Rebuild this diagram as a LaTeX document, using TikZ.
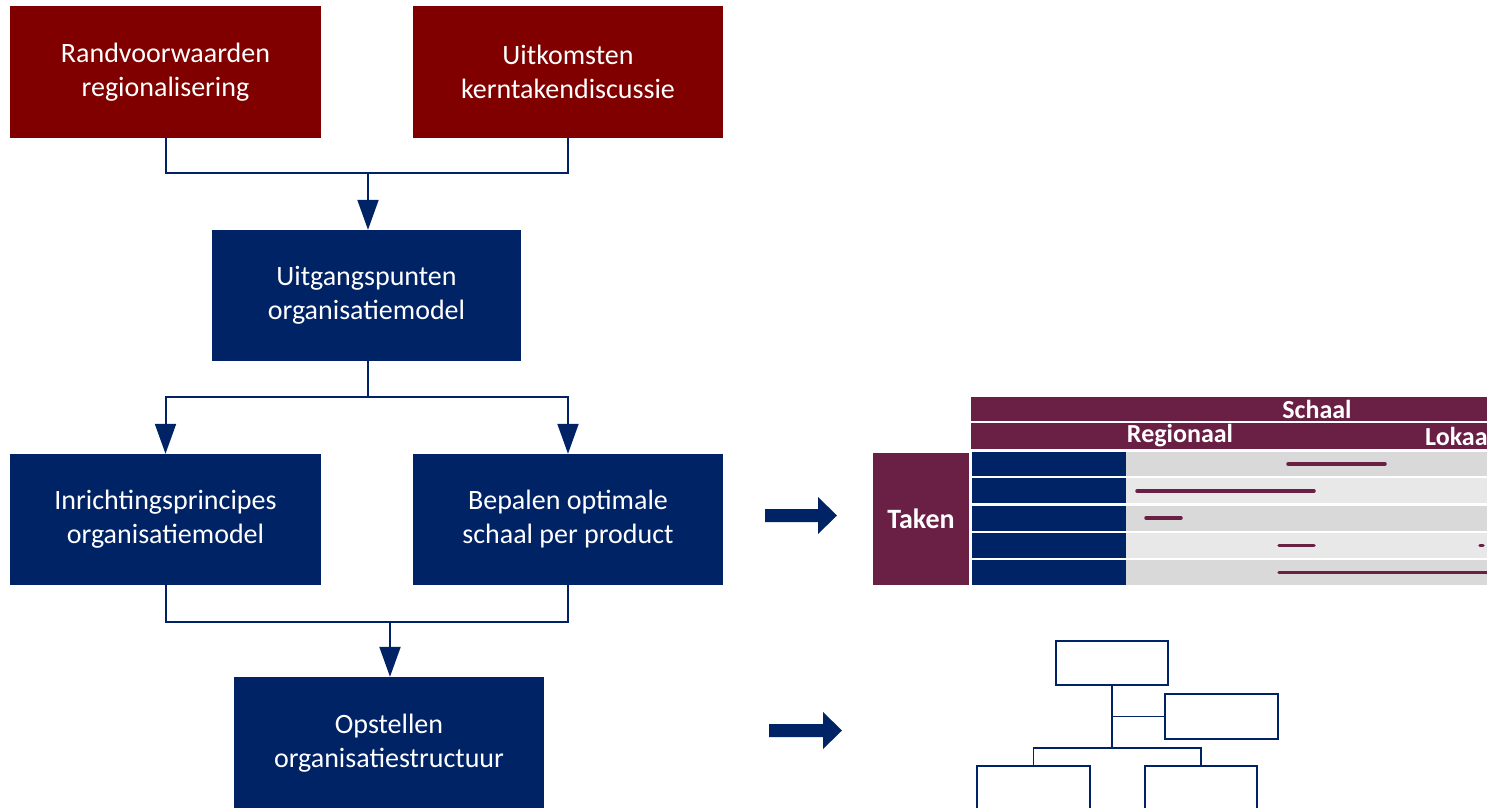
\documentclass[tikz,border=0pt]{standalone}
\usepackage{fontspec}
\setmainfont{Carlito}
\usetikzlibrary{arrows.meta}
\definecolor{darkred}{HTML}{800000}
\definecolor{navy}{HTML}{002366}
\definecolor{plum}{HTML}{6A1F45}
\definecolor{gA}{HTML}{D9D9D9}
\definecolor{gB}{HTML}{E8E8E8}
\begin{document}
\begin{tikzpicture}[x=1pt,y=-1pt,
  redbox/.style={fill=darkred, text=white, minimum width=311pt, minimum height=132pt, align=center, inner sep=0pt, font=\fontsize{28}{34}\selectfont},
  bluebox/.style={redbox, fill=navy},
  conn/.style={draw=navy, line width=2pt},
  arr/.style={conn, -{Triangle[length=30pt,width=21pt]}},
  blockarrow/.style={fill=navy},
  hdr/.style={text=white, font=\fontsize{26}{30}\selectfont\bfseries, inner sep=0pt},
  bar/.style={draw=plum, line width=3.5pt, line cap=round},
  orgbox/.style={draw=navy, line width=1.5pt, fill=white, minimum width=112pt, minimum height=44pt, inner sep=0pt},
  org/.style={draw=navy, line width=1.5pt}]
\useasboundingbox (0,0) rectangle (1487,807);
\clip (0,0) rectangle (1487,807);

% flowchart boxes
\node[redbox] (rv) at (165.5,72) {Randvoorwaarden\\regionalisering};
\node[redbox, minimum width=310pt] (uk) at (568,72) {Uitkomsten\\kerntakendiscussie};
\node[bluebox, minimum width=309pt, minimum height=131pt] (up) at (366.5,295.5) {Uitgangspunten\\organisatiemodel};
\node[bluebox, minimum height=131pt] (ip) at (165.5,519.5) {Inrichtingsprincipes\\organisatiemodel};
\node[bluebox, minimum width=310pt, minimum height=131pt] (bp) at (568,519.5) {Bepalen optimale\\schaal per product};
\node[bluebox, minimum width=310pt, minimum height=132pt] (os) at (389,743) {Opstellen\\organisatiestructuur};

% connectors
\coordinate (j1) at (368,173);
\draw[conn] (rv.south) |- (j1) -| (uk.south);
\draw[arr] (j1) -- (j1 |- up.north);
\coordinate (j2) at (368,397);
\draw[conn] (up.south -| j2) -- (j2);
\draw[arr] (j2) -| (ip.north);
\draw[arr] (j2) -| (bp.north);
\coordinate (j3) at (390,622);
\draw[conn] (ip.south) |- (j3) -| (bp.south);
\draw[arr] (j3) -- (j3 |- os.north);

% block arrows
\fill[blockarrow] (765,509) -- (818,509) -- (818,497) -- (837,515.5) -- (818,534) -- (818,522) -- (765,522) -- cycle;
\fill[blockarrow] (769,724) -- (823,724) -- (823,712) -- (842,730.5) -- (823,749) -- (823,737) -- (769,737) -- cycle;

% table
\fill[plum] (971,397) rectangle (1487,421);
\node[hdr] (schaal) at (1317,409) {Schaal};
\fill[plum] (971,423) rectangle (1487,449);
\node[hdr] (regio) at (1180,436) {Regionaal};
\node[hdr, anchor=west] (lokaal) at (1425,436) {Lokaal};
\fill[plum] (873,453) rectangle (969,585);
\node[hdr, font=\fontsize{28}{32}\selectfont\bfseries] (taken) at (921,519) {Taken};

\fill[navy] (972,452) rectangle (1126,476);
\fill[gA] (1126,452) rectangle (1487,476);
\fill[navy] (972,478) rectangle (1126,503);
\fill[gB] (1126,478) rectangle (1487,503);
\fill[navy] (972,506) rectangle (1126,531);
\fill[gA] (1126,506) rectangle (1487,531);
\fill[navy] (972,533) rectangle (1126,558);
\fill[gB] (1126,533) rectangle (1487,558);
\fill[navy] (972,560) rectangle (1126,585);
\fill[gA] (1126,560) rectangle (1487,585);

\draw[bar] (1288,464) -- (1385,464);
\draw[bar] (1137,491) -- (1314,491);
\draw[bar] (1146,518) -- (1181,518);
\draw[bar] (1279,545.5) -- (1314,545.5);
\draw[bar] (1480,545.5) -- (1483,545.5);
\draw[bar] (1279,572.5) -- (1500,572.5);

% org chart
\node[orgbox] (ot) at (1112,663) {};
\node[orgbox, minimum width=113pt, minimum height=45pt] (or) at (1221.5,716.5) {};
\node[orgbox, minimum width=113pt] (obl) at (1033.5,788) {};
\node[orgbox] (obr) at (1201,788) {};
\coordinate (ob) at (1112,748);
\draw[org] (ot.south) -- (ob);
\draw[org] (or.west) -- (or.west -| ot.south);
\draw[org] (obl.north) |- (ob) -| (obr.north);
\end{tikzpicture}
\end{document}
